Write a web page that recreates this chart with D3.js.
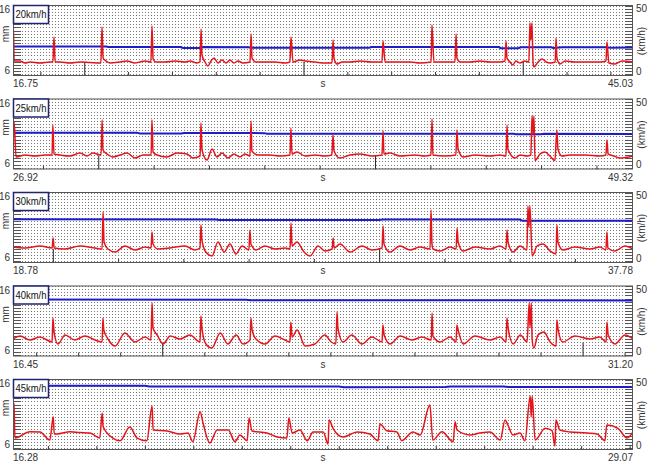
<!DOCTYPE html>
<html lang="en">
<head>
<meta charset="UTF-8">
<title>Displacement and speed runs</title>
<script src="https://d3js.org/d3.v7.min.js"></script>
<style>
    body { margin: 0; background: #fff; }
    svg { display: block; font-family: Arial, "Liberation Sans", sans-serif; }
    .lbl { font-size: 10px; fill: #333; }
    .tag { font-size: 10.5px; fill: #111; }
</style>
</head>
<body>
<svg id="chart" width="651" height="473"></svg>
<script>
// one entry per run (panel), top to bottom
const runLabels = ["20km/h", "25km/h", "30km/h", "40km/h", "45km/h"];
const timeStart = [16.75, 26.92, 18.78, 16.45, 16.28];
const timeEnd = [45.03, 49.32, 37.78, 31.20, 29.07];
const tickStep = [2, 2, 2, 1, 1];
const majorTicks = [[20, 30, 40], [30, 40], [20, 30], [20, 30], []];
const mmTicks = [6, 16];
const speedTicks = [0, 50];

// displacement (mm) against time (s)
const red1 = [[16.75,7.77],[16.77,13.07],[16.80,7.61],[17.07,7.61],[17.30,7.29],[17.53,7.45],[17.98,7.29],[18.44,7.45],[18.57,7.45],[18.62,11.46],[18.67,7.45],[18.89,7.45],[19.35,7.29],[19.81,7.45],[20.26,7.37],[20.76,7.29],[20.81,13.07],[20.86,8.09],[20.99,7.61],[21.17,7.29],[21.63,7.45],[21.95,7.61],[22.31,7.29],[22.54,7.45],[22.77,7.61],[23.04,7.45],[23.09,13.23],[23.14,7.93],[23.27,7.45],[23.68,7.45],[24.14,7.61],[24.60,7.45],[24.82,7.61],[25.14,7.29],[25.28,7.45],[25.33,12.75],[25.37,8.57],[25.51,7.45],[25.64,6.81],[25.78,7.61],[25.92,8.09],[26.10,7.29],[26.28,7.77],[26.47,7.29],[26.65,7.77],[26.83,7.29],[27.01,7.61],[27.24,7.29],[27.56,7.45],[27.61,11.94],[27.65,8.09],[27.83,7.45],[28.24,7.45],[28.70,7.45],[29.16,7.29],[29.38,7.45],[29.43,11.46],[29.52,7.45],[29.84,7.77],[30.07,7.61],[30.52,7.45],[30.98,7.29],[31.30,7.29],[31.35,10.98],[31.39,8.09],[31.53,7.13],[31.76,7.45],[32.12,7.45],[32.58,7.61],[33.12,7.45],[33.58,7.45],[33.63,10.82],[33.72,7.45],[34.17,7.45],[34.86,7.45],[35.31,7.29],[35.82,7.45],[35.86,13.39],[35.95,7.45],[36.45,7.45],[36.91,7.45],[36.96,11.94],[37.00,8.09],[37.14,7.45],[37.59,7.45],[38.05,7.61],[38.51,7.45],[38.96,7.45],[39.19,7.61],[39.24,10.82],[39.28,8.09],[39.42,7.45],[39.55,6.97],[39.69,7.61],[39.87,7.29],[40.10,7.61],[40.28,7.45],[40.33,13.71],[40.37,10.98],[40.42,13.71],[40.47,7.45],[40.51,6.64],[40.70,7.45],[40.88,7.93],[41.07,7.45],[41.25,7.29],[41.48,7.45],[41.52,11.30],[41.56,8.09],[41.70,7.13],[41.93,7.61],[42.38,7.45],[43.07,7.45],[43.52,7.45],[43.80,7.61],[43.84,10.70],[43.93,7.29],[44.21,7.13],[44.53,7.61],[45.03,7.45]];
const red2 = [[26.92,8.33],[26.96,12.87],[27.03,7.21],[27.35,7.53],[27.71,7.37],[28.08,7.53],[28.33,7.53],[28.36,12.34],[28.40,7.69],[28.62,7.53],[28.98,7.37],[29.34,7.85],[29.59,7.37],[29.81,7.85],[30.10,7.53],[30.14,13.15],[30.17,8.33],[30.32,7.69],[30.53,7.21],[30.79,7.53],[31.04,7.85],[31.33,7.04],[31.62,7.53],[31.91,7.53],[31.94,13.15],[31.98,8.01],[32.12,7.53],[32.48,7.21],[32.84,7.85],[33.21,7.69],[33.42,7.04],[33.68,7.37],[33.71,12.67],[33.75,8.33],[33.93,6.72],[34.11,8.49],[34.29,7.21],[34.47,7.85],[34.69,7.04],[34.90,7.69],[35.12,7.21],[35.30,7.69],[35.48,7.37],[35.52,12.99],[35.55,8.17],[35.77,7.53],[36.20,7.53],[36.57,7.37],[36.93,7.53],[36.96,11.86],[37.00,7.69],[37.18,8.01],[37.47,7.37],[37.83,7.53],[38.19,7.37],[38.44,7.53],[38.48,10.74],[38.52,8.17],[38.73,7.04],[39.10,7.53],[39.46,7.69],[39.89,7.37],[40.25,7.53],[40.29,11.38],[40.32,7.69],[40.54,7.85],[40.90,7.37],[41.44,7.53],[41.80,7.37],[42.02,7.53],[42.06,13.31],[42.09,7.53],[42.53,7.37],[42.92,7.53],[42.96,11.54],[43.00,8.49],[43.18,7.21],[43.61,7.53],[44.15,7.37],[44.51,7.53],[44.73,7.37],[44.77,12.34],[44.80,8.49],[45.06,7.04],[45.24,7.53],[45.49,7.37],[45.63,7.53],[45.67,13.79],[45.71,11.00],[45.74,13.79],[45.78,6.64],[45.96,7.69],[46.14,8.01],[46.32,7.37],[46.50,6.64],[46.57,11.54],[46.61,8.44],[46.75,7.37],[47.04,7.53],[47.59,7.53],[48.13,7.37],[48.34,7.53],[48.38,9.94],[48.42,7.69],[48.63,7.37],[48.85,7.04],[49.32,7.37]];
const red3 = [[18.78,7.77],[19.15,7.61],[19.61,7.93],[19.98,7.61],[20.01,9.21],[20.04,7.61],[20.37,7.45],[20.83,7.93],[21.29,7.61],[21.51,7.45],[21.54,13.39],[21.57,8.57],[21.69,7.45],[21.91,6.96],[22.21,7.93],[22.52,7.29],[22.83,7.77],[23.01,7.61],[23.04,10.18],[23.07,8.25],[23.22,7.45],[23.59,7.61],[24.05,7.93],[24.36,7.29],[24.51,7.61],[24.54,11.30],[24.57,8.89],[24.69,6.96],[24.88,6.32],[25.06,8.57],[25.25,6.96],[25.43,8.25],[25.61,6.64],[25.80,7.93],[26.01,7.29],[26.04,10.50],[26.07,8.25],[26.23,7.29],[26.50,7.93],[26.81,7.45],[27.12,7.61],[27.27,7.45],[27.30,11.62],[27.33,7.93],[27.48,8.57],[27.70,6.96],[27.88,6.32],[28.13,7.93],[28.34,7.12],[28.56,7.45],[28.59,9.21],[28.62,7.61],[28.80,8.25],[29.11,6.96],[29.48,7.93],[29.78,7.29],[30.09,7.61],[30.12,11.14],[30.15,8.25],[30.33,6.96],[30.64,7.93],[30.95,7.29],[31.25,7.77],[31.56,7.45],[31.59,13.71],[31.62,8.25],[31.65,7.45],[31.87,7.12],[32.17,7.77],[32.36,7.45],[32.39,10.82],[32.42,8.57],[32.57,7.12],[32.94,7.77],[33.40,7.45],[33.70,7.93],[33.89,7.45],[33.92,10.50],[33.95,8.57],[34.10,6.96],[34.32,7.93],[34.53,7.29],[34.56,14.35],[34.59,11.00],[34.62,14.35],[34.69,6.32],[34.84,7.93],[35.02,8.25],[35.24,7.12],[35.42,6.64],[35.45,11.30],[35.48,8.57],[35.63,7.29],[36.00,7.77],[36.46,7.45],[36.77,7.77],[36.95,7.29],[36.98,10.18],[37.01,7.61],[37.23,7.12],[37.53,7.93],[37.78,7.45]];
const red4 = [[16.45,8.01],[16.62,8.49],[16.85,7.85],[17.09,8.33],[17.38,7.53],[17.40,11.38],[17.43,8.97],[17.52,7.21],[17.69,8.65],[17.92,7.85],[18.16,8.49],[18.40,7.85],[18.57,7.53],[18.59,11.38],[18.61,9.45],[18.71,8.01],[18.88,6.88],[19.11,8.97],[19.35,7.53],[19.59,8.33],[19.73,7.85],[19.76,13.79],[19.78,9.77],[19.88,8.65],[20.02,7.21],[20.19,8.49],[20.42,8.01],[20.66,8.65],[20.90,7.53],[20.92,11.70],[20.95,9.45],[21.04,7.21],[21.18,6.56],[21.38,8.97],[21.56,7.21],[21.76,8.65],[21.92,7.21],[22.09,7.85],[22.11,11.38],[22.14,9.45],[22.23,8.01],[22.45,7.21],[22.68,8.49],[22.92,7.85],[23.04,7.53],[23.06,10.74],[23.09,8.33],[23.21,9.45],[23.40,6.88],[23.63,7.21],[23.87,8.65],[24.02,7.53],[24.13,7.21],[24.16,12.34],[24.18,9.77],[24.30,7.53],[24.51,8.65],[24.75,7.21],[24.99,8.33],[25.23,7.53],[25.25,10.26],[25.28,8.65],[25.42,7.21],[25.66,8.49],[25.94,7.85],[26.18,8.33],[26.40,7.85],[26.42,12.18],[26.44,8.49],[26.61,7.53],[26.85,8.33],[26.99,7.53],[27.01,10.26],[27.04,9.45],[27.16,7.21],[27.44,8.49],[27.80,7.85],[28.04,8.33],[28.18,7.53],[28.20,11.38],[28.23,9.77],[28.35,7.21],[28.52,8.65],[28.68,7.53],[28.73,13.79],[28.75,9.80],[28.78,13.79],[28.80,8.00],[28.84,6.56],[28.94,8.65],[29.08,9.13],[29.23,7.53],[29.37,6.88],[29.39,11.06],[29.42,9.45],[29.53,7.53],[29.82,8.49],[30.18,8.01],[30.41,8.33],[30.56,7.53],[30.58,10.74],[30.61,8.65],[30.77,7.21],[31.01,8.65],[31.20,8.01]];
const red5 = [[16.28,7.12],[16.30,12.75],[16.32,7.12],[16.63,8.14],[16.84,8.09],[17.04,6.80],[17.11,10.55],[17.13,7.77],[17.19,7.77],[17.46,8.14],[17.66,8.01],[17.87,7.93],[18.07,7.12],[18.12,11.14],[18.14,8.94],[18.34,7.12],[18.49,6.69],[18.69,8.89],[18.84,7.12],[19.04,6.69],[19.15,12.26],[19.17,8.41],[19.46,8.25],[19.73,7.77],[19.89,7.93],[19.99,6.53],[20.14,11.35],[20.20,9.53],[20.34,6.32],[20.49,8.41],[20.55,8.41],[20.72,8.41],[20.86,6.53],[20.96,7.61],[21.11,6.69],[21.15,10.34],[21.21,8.25],[21.52,7.93],[21.73,7.29],[21.93,7.12],[21.97,10.34],[22.04,7.93],[22.20,8.41],[22.35,6.69],[22.47,8.09],[22.68,8.09],[22.78,6.16],[22.80,10.02],[22.88,8.73],[23.09,7.29],[23.38,8.09],[23.64,7.77],[23.81,6.69],[23.85,9.37],[23.99,8.30],[24.20,8.09],[24.30,6.69],[24.53,8.09],[24.68,7.61],[24.88,12.42],[24.94,6.80],[25.13,8.14],[25.36,6.53],[25.40,9.74],[25.44,8.41],[25.71,7.61],[25.91,7.93],[26.12,8.09],[26.33,6.80],[26.43,10.02],[26.49,9.21],[26.59,7.61],[26.74,7.93],[26.84,6.69],[26.95,13.87],[26.97,10.50],[26.99,13.87],[27.05,6.80],[27.26,8.68],[27.40,8.30],[27.46,5.84],[27.48,10.02],[27.56,8.41],[27.77,8.09],[28.12,7.93],[28.33,7.77],[28.49,6.69],[28.53,9.21],[28.76,8.68],[28.95,7.12],[29.07,8.09]];

// speed (km/h) against time (s)
const blue1 = [[16.75,19.7],[21.0,19.7],[21.1,19.3],[24.4,19.3],[24.5,18.5],[25.3,18.5],[25.4,19.2],[27.5,19.0],[27.6,18.6],[33.0,18.6],[33.1,19.2],[38.9,19.2],[39.0,18.3],[39.8,18.3],[39.9,19.1],[41.3,19.1],[41.4,18.5],[41.8,19.1],[43.8,19.0],[44.0,18.6],[45.03,18.8]];
const blue2 = [[26.92,25.6],[31.4,25.6],[31.5,24.9],[33.0,24.9],[33.1,25.3],[36.0,25.2],[36.1,24.7],[45.0,24.7],[45.1,24.4],[46.0,24.4],[46.1,24.7],[49.32,24.6]];
const blue3 = [[18.78,31.2],[25.0,31.0],[25.1,30.6],[30.0,30.6],[30.1,30.9],[34.3,30.9],[34.4,30.0],[37.78,30.0]];
const blue4 = [[16.45,41.8],[22.0,41.6],[22.1,41.2],[31.20,41.0]];
const blue5 = [[16.28,47.6],[19.0,47.6],[19.1,47.0],[23.0,47.0],[23.1,46.4],[25.2,46.6],[25.3,47.0],[26.4,47.0],[26.5,46.5],[29.07,46.5]];

const redRuns = [red1, red2, red3, red4, red5];
const blueRuns = [blue1, blue2, blue3, blue4, blue5];

const svg = d3.select("#chart");
const left = 13, right = 633;
const panelH = 71, panelGap = 93.5, firstTop = 5;

runLabels.forEach((label, i) => {
    const top = firstTop + i * panelGap;
    const bottom = top + panelH;

    const x = d3.scaleLinear().domain([timeStart[i], timeEnd[i]]).range([left, right]);
    const y = d3.scaleLinear().domain([5.2, 16.6]).range([bottom, top]);
    const ySpeed = d3.scaleLinear().domain([-4, 53]).range([bottom, top]);

    const g = svg.append("g");

    // dotted grid rows every 0.5 mm
    const rows = y.ticks(20).filter(v => v > 5.2 && v < 16.6);
    g.selectAll(".row").data(rows).enter().append("line")
        .attr("x1", left).attr("x2", right)
        .attr("y1", d => Math.round(y(d)) + 0.5).attr("y2", d => Math.round(y(d)) + 0.5)
        .attr("stroke", "#7a7a7a").attr("stroke-dasharray", "1,2");

    // short solid marks at both edges
    g.selectAll(".lm").data(rows).enter().append("line")
        .attr("x1", left).attr("x2", left + 8)
        .attr("y1", d => Math.round(y(d)) + 0.5).attr("y2", d => Math.round(y(d)) + 0.5)
        .attr("stroke", "#555");
    g.selectAll(".rm").data(rows).enter().append("line")
        .attr("x1", right - 8).attr("x2", right)
        .attr("y1", d => Math.round(y(d)) + 0.5).attr("y2", d => Math.round(y(d)) + 0.5)
        .attr("stroke", "#555");

    // time ticks along the bottom (pointing up)
    const first = Math.ceil(timeStart[i] / tickStep[i]) * tickStep[i];
    const tks = d3.range(first, timeEnd[i], tickStep[i]).filter(t => !majorTicks[i].includes(t));
    g.append("g").attr("transform", `translate(0,${bottom})`)
        .call(d3.axisBottom(x).tickValues(tks).tickSize(-4).tickFormat(""))
        .call(a => a.select(".domain").remove())
        .selectAll("line").attr("stroke", "#333");
    g.append("g").attr("transform", `translate(0,${bottom})`)
        .call(d3.axisBottom(x).tickValues(majorTicks[i]).tickSize(-14).tickFormat(""))
        .call(a => a.select(".domain").remove())
        .selectAll("line").attr("stroke", "#222");

    const clipId = "clip" + i;
    svg.append("clipPath").attr("id", clipId).append("rect")
        .attr("x", left).attr("y", top).attr("width", right - left).attr("height", panelH);

    // speed
    g.append("path").datum(blueRuns[i])
        .attr("clip-path", `url(#${clipId})`)
        .attr("fill", "none").attr("stroke", "#1d1dcc").attr("stroke-width", 2)
        .attr("d", d3.line().x(d => x(d[0])).y(d => ySpeed(d[1])));

    // displacement
    g.append("path").datum(redRuns[i])
        .attr("clip-path", `url(#${clipId})`)
        .attr("fill", "none").attr("stroke", "#e5141a").attr("stroke-width", 1.5)
        .attr("stroke-linejoin", "round")
        .attr("d", d3.line().curve(d3.curveMonotoneX).x(d => x(d[0])).y(d => y(d[1])));

    // frame
    g.append("rect").attr("x", left + 0.5).attr("y", top + 0.5)
        .attr("width", right - left - 1).attr("height", panelH - 1)
        .attr("fill", "none").attr("stroke", "#555");

    // run label box
    g.append("rect").attr("x", left + 0.5).attr("y", top + 0.5)
        .attr("width", 35).attr("height", 18)
        .attr("fill", "#fff").attr("stroke", "#23236e").attr("stroke-width", 1.5);
    g.append("text").attr("class", "tag").attr("x", left + 2.5).attr("y", top + 13)
        .attr("textLength", 31).attr("lengthAdjust", "spacingAndGlyphs").text(label);

    // left axis (mm)
    g.append("g").attr("transform", `translate(${left - 2},0)`)
        .call(d3.axisLeft(d3.scaleLinear().domain([5.2, 16.6]).range([bottom - 1, top + 1]))
            .tickValues(mmTicks).tickSize(0).tickPadding(1))
        .call(a => a.select(".domain").remove())
        .selectAll("text").attr("class", "lbl").attr("font-size", null).attr("font-family", null);
    g.append("text").attr("class", "lbl")
        .attr("transform", `translate(${left - 4},${top + 29}) rotate(-90)`)
        .attr("text-anchor", "middle").text("mm");

    // right axis (km/h)
    g.append("g").attr("transform", `translate(${right + 2},0)`)
        .call(d3.axisRight(ySpeed).tickValues(speedTicks).tickSize(0).tickPadding(1))
        .call(a => a.select(".domain").remove())
        .selectAll("text").attr("class", "lbl").attr("font-size", null).attr("font-family", null);
    g.append("text").attr("class", "lbl")
        .attr("transform", `translate(${right + 12},${top + 36}) rotate(-90)`)
        .attr("text-anchor", "middle").text("(km/h)");

    // time labels
    g.append("text").attr("class", "lbl").attr("x", left).attr("y", bottom + 11)
        .text(timeStart[i].toFixed(2));
    g.append("text").attr("class", "lbl").attr("x", (left + right) / 2).attr("y", bottom + 11)
        .attr("text-anchor", "middle").text("s");
    g.append("text").attr("class", "lbl").attr("x", right).attr("y", bottom + 11)
        .attr("text-anchor", "end").text(timeEnd[i].toFixed(2));
});
</script>
</body>
</html>
